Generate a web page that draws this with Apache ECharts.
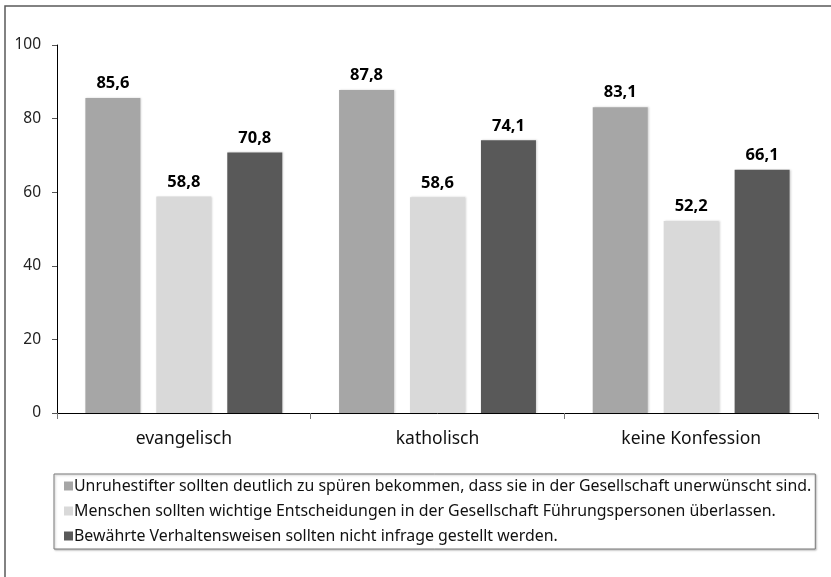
<!DOCTYPE html>
<html>
<head>
<meta charset="utf-8">
<script src="https://cdn.jsdelivr.net/npm/echarts@6/dist/echarts.min.js"></script>
<style>
  html, body { margin: 0; padding: 0; background: #fff; }
  #chart { width: 831px; height: 577px; }
</style>
</head>
<body>
<div id="chart"></div>
<script>
// Konfessionsgruppen
const categories = ['evangelisch', 'katholisch', 'keine Konfession'];

// Zustimmung in Prozent je Aussage
const seriesNames = [
  'Unruhestifter sollten deutlich zu spüren bekommen, dass sie in der Gesellschaft unerwünscht sind.',
  'Menschen sollten wichtige Entscheidungen in der Gesellschaft Führungspersonen überlassen.',
  'Bewährte Verhaltensweisen sollten nicht infrage gestellt werden.'
];
const unruhestifter = [85.6, 87.8, 83.1];
const fuehrungspersonen = [58.8, 58.6, 52.2];
const verhaltensweisen = [70.8, 74.1, 66.1];
const seriesValues = [unruhestifter, fuehrungspersonen, verhaltensweisen];

const colors = ['#a6a6a6', '#d9d9d9', '#595959'];
const font = 'Noto Sans';

const chart = echarts.init(document.getElementById('chart'), null, { renderer: 'canvas' });

chart.setOption({
  animation: false,
  textStyle: { fontFamily: font },
  grid: { left: 57, right: 13, top: 45, bottom: 164, containLabel: false },
  graphic: [{
    type: 'rect',
    shape: { x: 5, y: 6, width: 900, height: 700 },
    style: { fill: 'none', stroke: '#5a5a5a', lineWidth: 1.5 },
    silent: true
  }],
  legend: {
    orient: 'vertical',
    left: 54,
    top: 474,
    itemWidth: 9,
    itemHeight: 9,
    itemGap: 9,
    icon: 'rect',
    padding: [4, 4, 5, 10],
    borderColor: '#7a7a7a',
    borderWidth: 1,
    shadowColor: 'rgba(0,0,0,0.25)',
    shadowBlur: 2,
    shadowOffsetX: 1,
    shadowOffsetY: 1,
    backgroundColor: '#fff',
    textStyle: { fontFamily: font, fontSize: 15.9, color: '#111', padding: [0, 0, 0, -4] },
    data: seriesNames
  },
  xAxis: {
    type: 'category',
    data: categories,
    axisLine: { lineStyle: { color: '#000', width: 1 } },
    axisTick: { show: true, length: 6, lineStyle: { color: '#777' } },
    axisLabel: { fontFamily: font, fontSize: 17.5, color: '#111', margin: 17 }
  },
  yAxis: {
    type: 'value',
    min: 0,
    max: 100,
    interval: 20,
    splitLine: { show: false },
    axisLine: { show: true, lineStyle: { color: '#000', width: 1 } },
    axisTick: { show: true, length: 5, lineStyle: { color: '#555' } },
    axisLabel: { fontFamily: font, fontSize: 15.5, color: '#222', margin: 16 }
  },
  series: seriesValues.map((vals, i) => ({
    name: seriesNames[i],
    type: 'bar',
    data: vals,
    barWidth: 55,
    barGap: '29%',
    itemStyle: {
      color: colors[i],
      shadowColor: 'rgba(0,0,0,0.18)',
      shadowBlur: 2,
      shadowOffsetX: 1
    },
    label: {
      show: true,
      position: 'top',
      distance: 6,
      fontFamily: font,
      fontWeight: 'bold',
      fontSize: 16.5,
      color: '#000',
      formatter: p => p.value.toFixed(1).replace('.', ',')
    }
  }))
});
</script>
</body>
</html>
